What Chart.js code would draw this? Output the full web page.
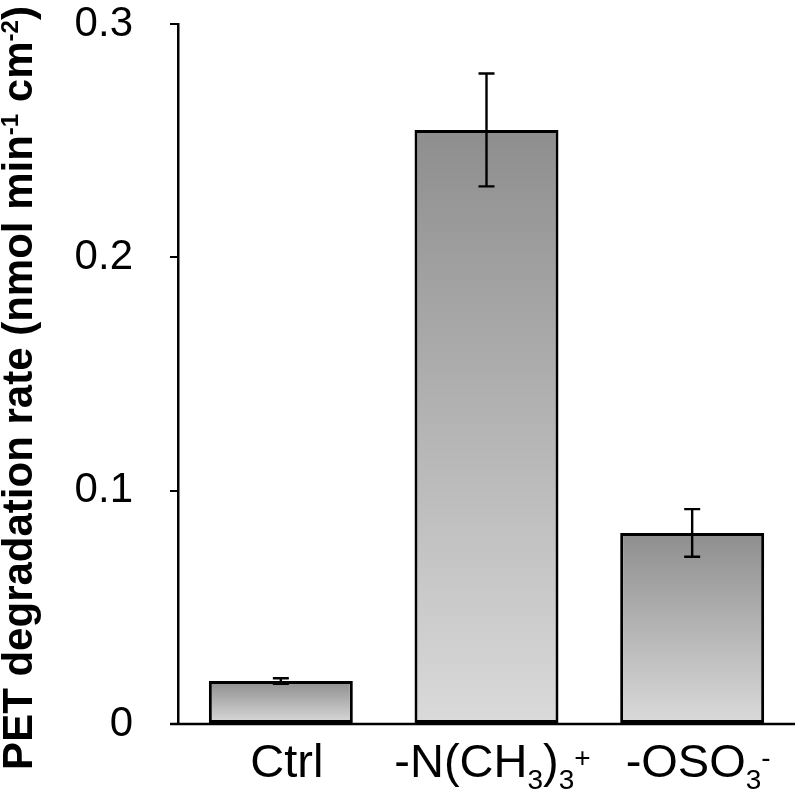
<!DOCTYPE html>
<html>
<head>
<meta charset="utf-8">
<script src="https://cdn.jsdelivr.net/npm/chart.js@4.4.1/dist/chart.umd.min.js"></script>
<style>
  html, body { margin: 0; padding: 0; background: #fff; }
  #wrap { width: 795px; height: 794px; position: relative; }
</style>
</head>
<body>
<div id="wrap"><canvas id="chart"></canvas></div>
<script>
// categories and values
const categories = ['Ctrl', '-N(CH3)3+', '-OSO3-'];
const rates = [0.0184, 0.2546, 0.0819];
const errors = [0.0012, 0.0242, 0.0102];
const yTicks = [0, 0.1, 0.2, 0.3];

// label pieces with sub/superscripts: [text, kind]
const xLabelParts = [
  [['Ctrl', 'n']],
  [['-N(CH', 'n'], ['3', 'sub'], [')', 'n'], ['3', 'sub'], ['+', 'sup']],
  [['-OSO', 'n'], ['3', 'sub'], ['-', 'sup']]
];
const yTitleParts = [
  ['PET degradation rate (nmol min', 'n'], ['-1', 'sup'],
  [' cm', 'n'], ['-2', 'sup'], [')', 'n']
];

const FONT = '"Liberation Sans", Arial, sans-serif';

// draw a run of text pieces, centered at 0 along x, baseline at 0
function drawParts(ctx, parts, size, weight, shift) {
  const small = Math.round(size * shift.scale);
  const fontFor = kind => `${weight} ${kind === 'n' ? size : small}px ${FONT}`;
  let total = 0;
  parts.forEach(([t, k]) => { ctx.font = fontFor(k); total += ctx.measureText(t).width; });
  let x = -total / 2;
  parts.forEach(([t, k]) => {
    ctx.font = fontFor(k);
    let dy = 0;
    if (k === 'sub') dy = shift.sub;
    if (k === 'sup') dy = shift.sup;
    ctx.fillText(t, x, dy);
    x += ctx.measureText(t).width;
  });
}

const extras = {
  id: 'extras',
  afterDatasetsDraw(chart) {
    const { ctx, scales: { x, y } } = chart;
    ctx.save();
    ctx.strokeStyle = '#000';
    ctx.lineWidth = 2.4;
    // error bars
    rates.forEach((v, i) => {
      const cx = x.getPixelForValue(i);
      const top = y.getPixelForValue(v + errors[i]);
      const bot = y.getPixelForValue(v - errors[i]);
      ctx.beginPath();
      ctx.moveTo(cx, top); ctx.lineTo(cx, bot);
      ctx.moveTo(cx - 8, top); ctx.lineTo(cx + 8, top);
      ctx.moveTo(cx - 8, bot); ctx.lineTo(cx + 8, bot);
      ctx.stroke();
    });
    // x axis line, running a little past the y axis
    ctx.lineWidth = 2.5;
    const base = y.getPixelForValue(0);
    ctx.beginPath();
    ctx.moveTo(x.left - 8, base); ctx.lineTo(chart.width, base);
    ctx.stroke();
    ctx.restore();
  },
  afterDraw(chart) {
    const { ctx, scales: { x } } = chart;
    ctx.save();
    ctx.fillStyle = '#000';
    ctx.textBaseline = 'alphabetic';
    ctx.textAlign = 'left';
    xLabelParts.forEach((parts, i) => {
      ctx.save();
      ctx.translate(x.getPixelForValue(i) + 6, 777);
      drawParts(ctx, parts, 47, 'normal', { scale: 0.6, sub: 12, sup: -10 });
      ctx.restore();
    });
    // y axis title
    ctx.save();
    ctx.translate(32, 388);
    ctx.rotate(-Math.PI / 2);
    drawParts(ctx, yTitleParts, 42, 'bold', { scale: 0.56, sub: 8, sup: -14 });
    ctx.restore();
    ctx.restore();
  }
};

function barGradient(context) {
  const chart = context.chart;
  const y = chart.scales.y;
  if (!y || context.raw == null) return '#aaa';
  const top = y.getPixelForValue(context.raw);
  const bot = y.getPixelForValue(0);
  if (!isFinite(top) || !isFinite(bot) || top === bot) return '#aaa';
  const g = chart.ctx.createLinearGradient(0, top, 0, bot);
  g.addColorStop(0, '#8e8e8e');
  g.addColorStop(1, '#dadada');
  return g;
}

new Chart(document.getElementById('chart'), {
  type: 'bar',
  data: {
    labels: categories,
    datasets: [{
      data: rates,
      backgroundColor: barGradient,
      borderColor: '#000',
      borderWidth: 3,
      borderSkipped: false,
      barPercentage: 0.7,
      categoryPercentage: 1.0
    }]
  },
  plugins: [extras],
  options: {
    responsive: true,
    maintainAspectRatio: false,
    animation: false,
    layout: { padding: { top: 24, right: 0, left: 0, bottom: 0 } },
    plugins: { legend: { display: false }, tooltip: { enabled: false } },
    scales: {
      x: {
        grid: { display: false, drawTicks: false },
        border: { display: false },
        ticks: { display: false },
        afterFit: s => { s.height = 70; }
      },
      y: {
        min: 0,
        max: 0.3,
        afterBuildTicks: s => { s.ticks = yTicks.map(v => ({ value: v })); },
        grid: { drawOnChartArea: false, tickLength: 8, color: '#000', lineWidth: 2 },
        border: { display: true, color: '#000', width: 2.5 },
        ticks: {
          color: '#000',
          padding: 37,
          font: { family: FONT, size: 42 },
          callback: v => (v === 0 ? '0' : v.toFixed(1))
        },
        afterFit: s => { s.width = 178; s.paddingTop = 0; s.paddingBottom = 0; }
      }
    }
  }
});
</script>
</body>
</html>
